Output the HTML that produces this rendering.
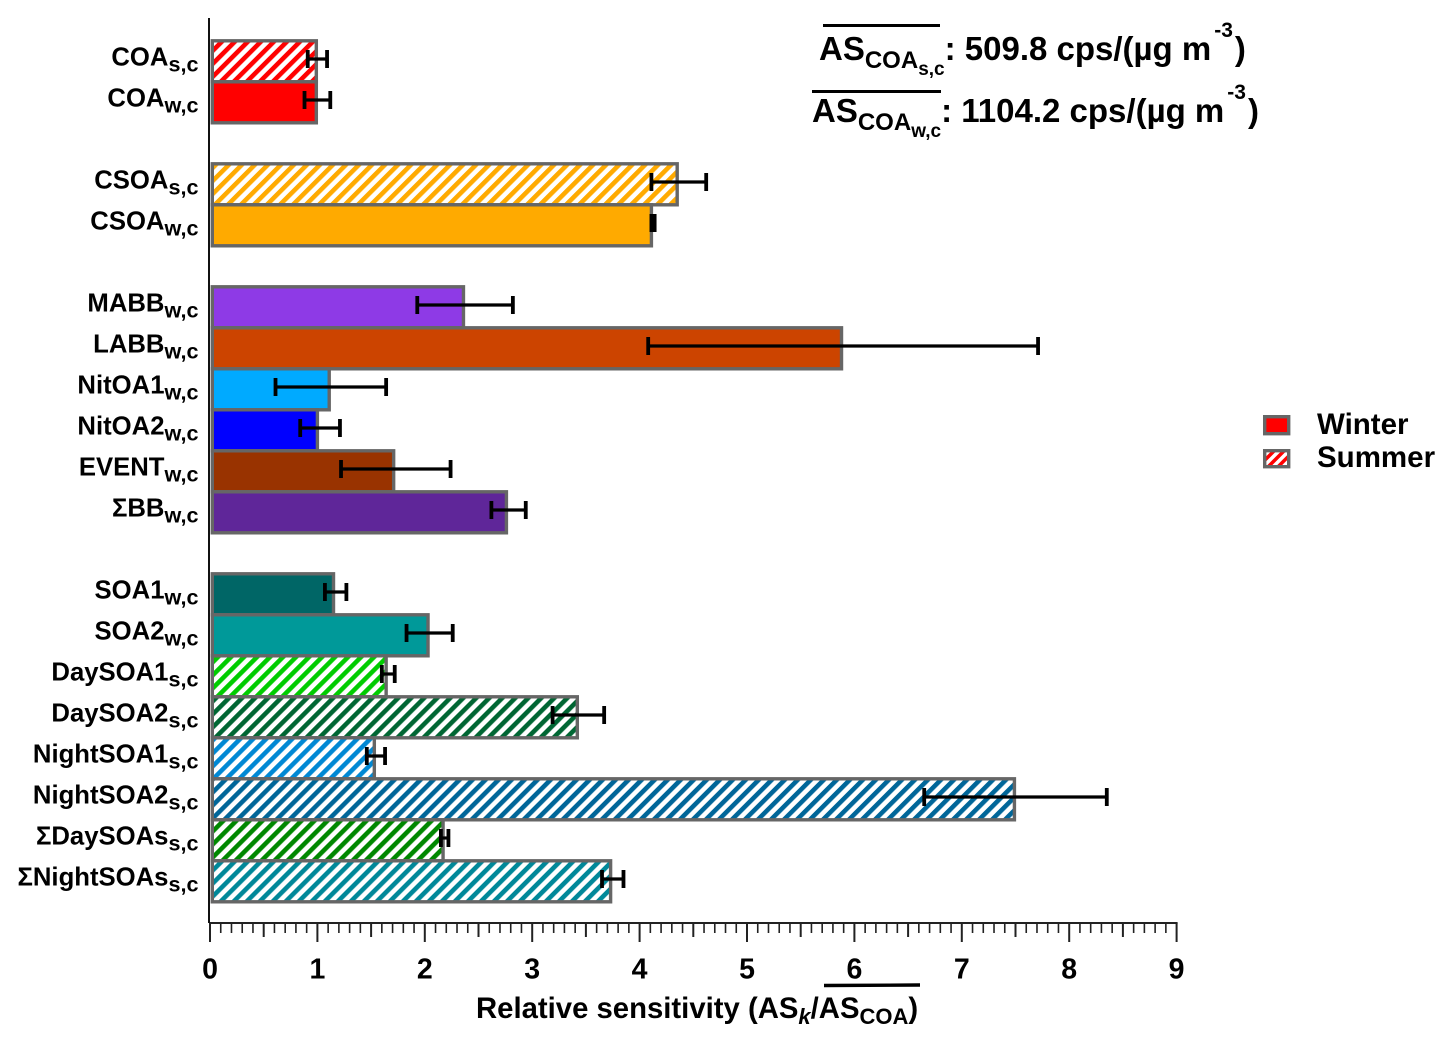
<!DOCTYPE html>
<html lang="en">
<head>
<meta charset="utf-8">
<title>Relative sensitivity chart</title>
<style>
html,body{margin:0;padding:0;background:#fff;}
svg{display:block;}
text{font-family:"Liberation Sans",Arial,sans-serif;font-weight:bold;fill:#000;}
</style>
</head>
<body>
<svg id="chart" width="1454" height="1043" viewBox="0 0 1454 1043" xmlns="http://www.w3.org/2000/svg">
  <defs id="defs"></defs>
  <g id="bars"></g>
  <g id="errors"></g>
  <g id="y-labels"></g>
  <g id="x-axis"></g>
  <line x1="209" y1="18" x2="209" y2="923" stroke="#111" stroke-width="2"/>

  <g>
    <line x1="824" y1="985.5" x2="920" y2="985" stroke="#000" stroke-width="3.4"/>
    <text x="476" y="1018" font-size="29.3">Relative sensitivity (AS<tspan font-size="22" font-style="italic" dy="6">k</tspan><tspan dy="-6">/AS</tspan><tspan font-size="22" dy="6">COA</tspan><tspan dy="-6">)</tspan></text>
  </g>

  <g>
    <line x1="823" y1="25.5" x2="940" y2="25.5" stroke="#000" stroke-width="3"/>
    <text x="819" y="60" font-size="33">AS<tspan font-size="24" dy="8">COA</tspan><tspan font-size="19" dy="7">s,c</tspan><tspan dy="-15">: 509.8 cps/(µg m</tspan><tspan font-size="21" dx="3" dy="-23">-3</tspan><tspan dx="2" dy="23">)</tspan></text>
  </g>
  <g>
    <line x1="812" y1="91.5" x2="941" y2="91.5" stroke="#000" stroke-width="3"/>
    <text x="812" y="122" font-size="33">AS<tspan font-size="24" dy="8">COA</tspan><tspan font-size="19" dy="7">w,c</tspan><tspan dy="-15">: 1104.2 cps/(µg m</tspan><tspan font-size="21" dx="3" dy="-23">-3</tspan><tspan dx="2" dy="23">)</tspan></text>
  </g>

  <g>
    <g>
      <rect x="1264.7" y="416.7" width="24" height="17" fill="#ff0000" stroke="#666" stroke-width="3.4"/>
      <text x="1317" y="434" font-size="29.5">Winter</text>
    </g>
    <g>
      <rect x="1264.7" y="450.7" width="24" height="16" fill="url(#legend-hatch)" stroke="#666" stroke-width="3.4"/>
      <text x="1317" y="467" font-size="29.5">Summer</text>
    </g>
  </g>
</svg>

<script>
// ---- chart data ----
const categoryNames = ["COA","COA","CSOA","CSOA","MABB","LABB","NitOA1","NitOA2","EVENT","ΣBB","SOA1","SOA2","DaySOA1","DaySOA2","NightSOA1","NightSOA2","ΣDaySOAs","ΣNightSOAs"];
const categorySubs = ["s,c","w,c","s,c","w,c","w,c","w,c","w,c","w,c","w,c","w,c","w,c","w,c","s,c","s,c","s,c","s,c","s,c","s,c"];
const groupSizes = [2,2,6,8];
const meanValues = [0.99,0.99,4.35,4.11,2.36,5.88,1.11,1.00,1.71,2.76,1.15,2.03,1.64,3.42,1.53,7.49,2.17,3.73];
const errorLow = [0.91,0.88,4.11,4.11,1.93,4.08,0.61,0.84,1.22,2.62,1.07,1.83,1.60,3.19,1.46,6.65,2.15,3.65];
const errorHigh = [1.09,1.12,4.62,4.14,2.82,7.71,1.64,1.21,2.24,2.94,1.27,2.26,1.72,3.67,1.63,8.35,2.22,3.85];
const xTickLabels = ["0","1","2","3","4","5","6","7","8","9"];
const barColors = ["#ff0000","#ff0000","#ffaa00","#ffaa00","#8e3ae6","#cc4400","#00aaff","#0000ff","#993300","#5f2699","#006666","#009999","#00cc00","#006633","#0088d4","#006699","#008800","#008899"];

// ---- axis functions ----
const SVGNS = "http://www.w3.org/2000/svg";
function xScale(v){ return 210 + v * 107.4; }
function slotOf(i){
  let gaps = 0, run = 0;
  for (let g = 0; g < groupSizes.length; g++){
    run += groupSizes[g];
    if (i < run) break;
    gaps++;
  }
  return i + gaps;
}
function yScale(i){ return 61 + slotOf(i) * 41; }
function make(tag, attrs, parent){
  const el = document.createElementNS(SVGNS, tag);
  for (const k in attrs) el.setAttribute(k, attrs[k]);
  parent.appendChild(el);
  return el;
}

const defs = document.getElementById("defs");
const barsG = document.getElementById("bars");
const errorsG = document.getElementById("errors");
const labelsG = document.getElementById("y-labels");
const axisG = document.getElementById("x-axis");

function hatch(id, color, period){
  const p = make("pattern", {id:id, patternUnits:"userSpaceOnUse", width:period, height:period, patternTransform:"rotate(-45)"}, defs);
  make("rect", {x:0, y:0, width:period, height:period, fill:"#fff"}, p);
  make("rect", {x:0, y:0, width:period, height:period/2, fill:color}, p);
}
hatch("legend-hatch", "#ff0000", 7);

// bars
meanValues.forEach(function(v, i){
  const summer = categorySubs[i].charAt(0) === "s";
  let fill = barColors[i];
  if (summer){
    const id = "hatch-" + i;
    hatch(id, barColors[i], 9.2);
    fill = "url(#" + id + ")";
  }
  const rect = make("rect", {x:212.3, y:yScale(i)-20.2, width:xScale(v)-212.3, height:41, fill:fill, stroke:"#666", "stroke-width":3.4}, barsG);
  
  
});

// error bars
errorLow.forEach(function(lo, i){
  const hi = errorHigh[i];
  const y = yScale(i) - 2;
  const g = make("g", {stroke:"#000", fill:"none"}, errorsG);
  
  
  make("line", {x1:xScale(lo), x2:xScale(hi), y1:y, y2:y, "stroke-width":3.2}, g);
  make("line", {x1:xScale(lo), x2:xScale(lo), y1:y-9, y2:y+9, "stroke-width":3.8}, g);
  make("line", {x1:xScale(hi), x2:xScale(hi), y1:y-9, y2:y+9, "stroke-width":3.8}, g);
});

// category labels
categoryNames.forEach(function(name, i){
  const base = yScale(i) + 4.6;
  const t = make("text", {x:198.5, y:base, "text-anchor":"end", "font-size":25.7}, labelsG);
  
  
  t.appendChild(document.createTextNode(name));
  const s = make("tspan", {"font-size":21.6, dy:6}, t);
  s.textContent = categorySubs[i];
});

// x axis
make("line", {x1:209, x2:xScale(9)+1, y1:923, y2:923, stroke:"#222", "stroke-width":2}, axisG);
const tickCount = (xTickLabels.length - 1) * 10;
for (let k = 0; k <= tickCount; k++){
  const v = k / 10;
  const len = k % 10 === 0 ? 19 : (k % 5 === 0 ? 14 : 10);
  const tick = make("line", {x1:xScale(v), x2:xScale(v), y1:923, y2:923+len, stroke:"#222", "stroke-width":k % 5 === 0 ? 2 : 1.6}, axisG);
  
  
}
xTickLabels.forEach(function(lab, i){
  const t = make("text", {x:xScale(+lab), y:978.5, "text-anchor":"middle", "font-size":28.5}, axisG);
  
  
  t.textContent = lab;
});
</script>
</body>
</html>
